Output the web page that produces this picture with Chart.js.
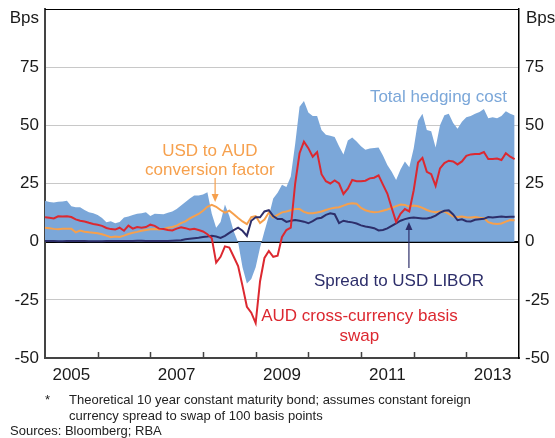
<!DOCTYPE html>
<html>
<head>
<meta charset="utf-8">
<script src="https://cdn.jsdelivr.net/npm/chart.js@4"></script>
<style>
  body { margin: 0; background: #fff; }
  canvas { display: block; }
</style>
</head>
<body>
<canvas id="c" width="555" height="438" style="width:555px;height:438px"></canvas>
<script>
// monthly observations, Jan 2005 .. Dec 2013
const startYear = 2005;
const labelYears = [2005, 2007, 2009, 2011, 2013];
const yearTicks = [2006, 2007, 2008, 2009, 2010, 2011, 2012, 2013];
const yTicks = [-50, -25, 0, 25, 50, 75];

const totalCost = [
  17.6, 17.0, 16.8, 17.2, 17.3, 17.6, 15.2, 14.8, 14.8, 13.6,
  12.6, 12.2, 11.5, 10.2, 8.3, 8.8, 7.9, 8.5, 10.4, 10.8,
  11.5, 12.0, 12.2, 12.6, 11.0, 12.0, 11.9, 11.8, 12.4, 13.0,
  14.0, 15.5, 17.0, 18.5, 19.8, 19.8, 20.3, 21.2, 12.0, 6.0,
  8.5, 16.0, 11.0, 4.5, -0.3, -11, -18, -16, -11, -2.5,
  4.5, 11, 18.5, 21, 24.5, 23.5, 28, 42, 58, 60.5,
  55.5, 54, 54, 48, 46, 45.5, 45, 41, 37.5, 43.5,
  44.8, 43, 41, 39.5, 40, 40.3, 40.5, 37, 33, 30,
  26.5, 31, 34.5, 32, 40, 52, 55, 48, 47.5, 40.5,
  50, 54.3, 55, 51, 48.5, 51.5, 53.5, 54, 55, 55.7,
  57, 53, 53.5, 53, 54, 56, 55, 54.2
];
const basisSwap = [
  10.5, 10.3, 10.0, 10.9, 10.8, 10.9, 10.6, 9.6, 9.0, 8.7,
  8.1, 7.6, 7.3, 6.8, 5.9, 5.4, 5.2, 6.0, 4.7, 6.9,
  5.6, 6.3, 6.0, 6.3, 7.3, 6.8, 5.6, 5.4, 5.0, 4.8,
  5.6, 6.2, 5.8, 5.2, 5.5, 5.0, 4.4, 3.2, 1.5, -9.0,
  -6.5, -2.0, -2.5, -6.5, -10.5, -19, -28, -30.5, -35, -17,
  -7, -4, -6.5, -6, 2, 5, 6, 25, 38, 43,
  40.2, 36.5, 38.5, 29, 26, 25, 26.3, 25, 20.5, 22.8,
  26.5, 26, 26, 26.2, 27.2, 27.5, 28.5, 24.5, 20.7, 14.5,
  8.5, 12, 14, 13, 22, 34, 36, 30, 29, 24,
  31.5, 33.8, 34.8, 34.5, 33.2, 34.5, 36.9, 37.5, 37.7, 37.7,
  38.5, 35.5, 35.5, 35.7, 35.1, 38, 36.5, 35.5
];
const conversion = [
  6.0, 5.8, 5.5, 5.3, 5.5, 5.6, 5.6, 4.0, 4.8, 4.3,
  4.0, 3.8, 3.6, 3.2, 2.6, 1.9, 2.2, 2.0, 2.6, 3.3,
  3.8, 4.2, 4.7, 5.0, 5.3, 5.4, 5.2, 5.5, 6.0, 6.3,
  6.9, 8.0, 8.7, 10.0, 11.0, 11.9, 13.3, 15.0, 15.8, 15.0,
  13.6, 12.5, 13.3, 11.8, 10.2, 8.7, 7.5, 10.5, 11.0, 8.0,
  9.5, 12.5, 10.4, 11.5, 12.6, 13.0, 13.5, 14.0, 14.0, 12.8,
  12.2, 12.2, 12.5, 13.0, 13.6, 14.2, 14.6, 14.8, 15.5, 16.2,
  16.5, 16.3, 14.5, 13.5, 13.0, 12.6, 12.8, 13.3, 13.8, 14.5,
  15.3, 16.0, 15.8, 15.0, 15.5, 15.2, 14.5, 13.6, 13.0, 12.6,
  13.0, 13.0, 11.9, 10.8, 10.6, 10.8, 10.5, 10.4, 10.6, 10.3,
  10.2, 8.4, 7.8, 7.6, 7.8, 8.6, 9.3, 9.2
];
const liborSpread = [
  0.3, 0.3, 0.3, 0.2, 0.2, 0.3, 0.3, 0.3, 0.3, 0.3,
  0.2, 0.2, 0.2, 0.2, 0.3, 0.3, 0.3, 0.3, 0.3, 0.3,
  0.3, 0.4, 0.4, 0.3, 0.3, 0.3, 0.3, 0.3, 0.3, 0.4,
  0.5, 0.6, 1.0, 1.3, 1.5, 1.7, 2.0, 2.2, 2.5, 2.2,
  1.6, 2.5, 3.8, 5.0, 6.0, 4.7, 2.5, 9.0, 10.5, 10.5,
  13.0, 13.5, 11.0, 9.7, 9.7, 8.5, 9.0, 9.3, 9.0, 8.6,
  7.9, 8.8, 10.0, 10.3, 11.5, 12.2, 11.8, 8.0, 9.0, 8.6,
  8.3, 7.8, 7.0, 6.5, 6.2, 5.8, 4.8, 5.0, 5.7, 6.8,
  7.9, 9.0, 9.7, 10.2, 10.4, 10.2, 10.0, 10.0, 10.4, 11.2,
  12.5, 13.3, 13.5, 11.7, 9.2, 9.6, 8.8, 8.7, 9.4, 9.6,
  9.8, 10.6, 10.4, 10.6, 10.8, 10.6, 10.7, 10.7
];

const BLUE = "#7ba7d9", RED = "#dc2830", ORANGE = "#f6a04d", NAVY = "#2d2e6a";
const FONT = '"Liberation Sans", Arial, sans-serif';

function toPoints(arr) {
  return arr.map((v, i) => ({ x: startYear + i / 12, y: v }));
}

// drop the automatic label overhang so the plot box sits where we want it
function noPad(s) {
  s.paddingTop = 0;
  s.paddingBottom = 0;
  s.paddingLeft = 0;
  s.paddingRight = 0;
}

const overlay = {
  id: "overlay",
  afterDatasetsDraw(chart) {
    const { ctx, chartArea: a, scales: { x, y } } = chart;
    ctx.save();
    // top frame line
    ctx.strokeStyle = "#000";
    ctx.lineWidth = 1;
    ctx.beginPath();
    ctx.moveTo(a.left, a.top + 0.5);
    ctx.lineTo(a.right, a.top + 0.5);
    ctx.stroke();

    // year tick marks pointing inward
    ctx.strokeStyle = "#444";
    ctx.lineWidth = 1.5;
    ctx.beginPath();
    yearTicks.forEach(v => {
      const px = Math.round(x.getPixelForValue(v)) + 0.5;
      ctx.moveTo(px, a.bottom);
      ctx.lineTo(px, a.bottom - 6);
    });
    ctx.stroke();

    // series labels
    ctx.font = "17px " + FONT;
    ctx.textAlign = "center";
    ctx.textBaseline = "middle";
    const labels = [
      ["Total hedging cost", 2012.47, 62.2, BLUE],
      ["USD to AUD", 2008.13, 39, ORANGE],
      ["conversion factor", 2008.13, 30.8, ORANGE],
      ["Spread to USD LIBOR", 2011.72, -16.9, NAVY],
      ["AUD cross-currency basis", 2010.97, -31.9, RED],
      ["swap", 2010.97, -40.5, RED]
    ];
    labels.forEach(([t, vx, vy, c]) => {
      ctx.fillStyle = c;
      ctx.fillText(t, x.getPixelForValue(vx), y.getPixelForValue(vy));
    });

    // arrows
    function arrow(vx, y0, y1, color) {
      const px = x.getPixelForValue(vx);
      const p0 = y.getPixelForValue(y0), p1 = y.getPixelForValue(y1);
      const dir = p1 > p0 ? 1 : -1;
      ctx.strokeStyle = color;
      ctx.fillStyle = color;
      ctx.lineWidth = 1.2;
      ctx.beginPath();
      ctx.moveTo(px, p0);
      ctx.lineTo(px, p1 - dir * 5);
      ctx.stroke();
      ctx.beginPath();
      ctx.moveTo(px, p1);
      ctx.lineTo(px - 3.5, p1 - dir * 8);
      ctx.lineTo(px + 3.5, p1 - dir * 8);
      ctx.closePath();
      ctx.fill();
    }
    arrow(2008.23, 27.4, 17.1, ORANGE);
    arrow(2011.91, -11.3, 8.5, NAVY);

    // unit labels
    ctx.fillStyle = "#1a1a1a";
    ctx.textAlign = "right";
    ctx.fillText("Bps", a.left - 6, 18);
    ctx.textAlign = "left";
    ctx.fillText("Bps", a.right + 7, 18);

    // footnotes
    ctx.font = "13px " + FONT;
    ctx.fillStyle = "#222";
    ctx.fillText("*", 45, 400);
    ctx.fillText("Theoretical 10 year constant maturity bond; assumes constant foreign", 69, 400);
    ctx.fillText("currency spread to swap of 100 basis points", 69, 416);
    ctx.fillText("Sources: Bloomberg; RBA", 10, 431);
    ctx.restore();
  }
};

const tickFont = { family: FONT, size: 17 };

new Chart(document.getElementById("c"), {
  type: "line",
  data: {
    datasets: [
      { label: "AUD cross-currency basis swap", data: toPoints(basisSwap), borderColor: RED, borderWidth: 2, order: 0 },
      { label: "Spread to USD LIBOR", data: toPoints(liborSpread), borderColor: NAVY, borderWidth: 2, order: 1 },
      { label: "USD to AUD conversion factor", data: toPoints(conversion), borderColor: ORANGE, borderWidth: 2, order: 2 },
      { label: "Total hedging cost", data: toPoints(totalCost), borderWidth: 0, borderColor: BLUE, backgroundColor: BLUE, fill: "origin", order: 3 }
    ]
  },
  options: {
    responsive: false,
    animation: false,
    layout: { padding: { top: 9, left: 0, right: 0, bottom: 0 } },
    plugins: { legend: { display: false }, tooltip: { enabled: false } },
    elements: { point: { radius: 0 }, line: { tension: 0 } },
    scales: {
      x: {
        type: "linear",
        min: 2005,
        max: 2014,
        afterBuildTicks: s => { s.ticks = labelYears.map(v => ({ value: v + 0.5 })); },
        afterFit: s => { s.height = 80; noPad(s); },
        ticks: { callback: v => String(Math.floor(v)), font: tickFont, color: "#1a1a1a", padding: 7, maxRotation: 0, autoSkip: false },
        grid: { drawOnChartArea: false, drawTicks: false },
        border: { color: "#444", width: 2 }
      },
      y: {
        position: "left",
        min: -50,
        max: 100,
        afterBuildTicks: s => { s.ticks = yTicks.map(v => ({ value: v })); },
        afterFit: s => { s.width = 45; noPad(s); },
        ticks: { font: tickFont, color: "#1a1a1a", padding: 6 },
        grid: {
          drawTicks: false,
          color: c => (c.tick && c.tick.value === 0 ? "#000" : "#c8c8c8"),
          lineWidth: c => (c.tick && c.tick.value === 0 ? 2 : 1)
        },
        border: { color: "#444", width: 2 }
      },
      y2: {
        position: "right",
        min: -50,
        max: 100,
        afterBuildTicks: s => { s.ticks = yTicks.map(v => ({ value: v })); },
        afterFit: s => { s.width = 36; noPad(s); },
        ticks: { font: tickFont, color: "#1a1a1a", padding: 6 },
        grid: { drawOnChartArea: false, drawTicks: false },
        border: { color: "#000", width: 1.5 }
      }
    }
  },
  plugins: [overlay]
});
</script>
</body>
</html>
